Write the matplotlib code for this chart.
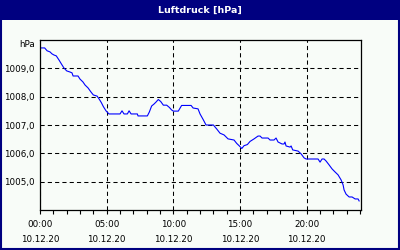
import matplotlib
matplotlib.use("Agg")
import matplotlib.pyplot as plt
from matplotlib.patches import Rectangle
from matplotlib.ticker import MultipleLocator, FixedLocator

title = "Luftdruck [hPa]"
unit = "hPa"
date_label = "10.12.20"
xtick_hours = [0, 5, 10, 15, 20]
xtick_labels = ["00:00", "05:00", "10:00", "15:00", "20:00"]
ytick_values = [1005, 1006, 1007, 1008, 1009]
ytick_labels = ["1005,0", "1006,0", "1007,0", "1008,0", "1009,0"]

hours = [0, 0.35, 0.53, 0.75, 0.9, 1.05, 1.22, 1.43, 1.65, 1.8, 2.0, 2.25, 2.4, 2.48,
         2.85, 3.0, 3.22, 3.38, 3.6, 3.83, 4.0, 4.28, 4.43, 4.6, 4.75, 4.95, 5.17, 6.0,
         6.15, 6.3, 6.55, 6.68, 6.83, 7.3, 7.35, 8.05, 8.2, 8.37, 8.55, 8.7, 8.87, 9.05,
         9.25, 9.5, 9.7, 9.87, 10.0, 10.37, 10.62, 11.33, 11.48, 11.85, 12.0, 12.25,
         12.45, 13.0, 13.25, 13.5, 13.8, 14.1, 14.55, 14.75, 14.95, 15.13, 15.3, 15.55,
         15.75, 16.05, 16.35, 16.5, 16.65, 17.1, 17.25, 17.55, 17.7, 17.85, 18.15, 18.3,
         18.37, 18.45, 18.75, 18.83, 18.95, 19.35, 19.58, 19.8, 19.95, 20.85, 21.0, 21.15,
         21.3, 21.45, 21.68, 21.9, 22.13, 22.35, 22.58, 22.73, 22.8, 22.95, 23.18, 23.4,
         23.63, 23.85, 23.93]
pressure = [1009.72, 1009.72, 1009.62, 1009.58, 1009.51, 1009.47, 1009.44, 1009.29,
            1009.12, 1009.01, 1008.91, 1008.87, 1008.84, 1008.73, 1008.73, 1008.62,
            1008.52, 1008.41, 1008.31, 1008.16, 1008.06, 1008.02, 1007.92, 1007.79,
            1007.65, 1007.5, 1007.39, 1007.39, 1007.5, 1007.39, 1007.39, 1007.5, 1007.39,
            1007.39, 1007.32, 1007.32, 1007.46, 1007.67, 1007.74, 1007.81, 1007.9,
            1007.83, 1007.7, 1007.7, 1007.62, 1007.53, 1007.49, 1007.49, 1007.69,
            1007.69, 1007.6, 1007.57, 1007.39, 1007.18, 1007.0, 1007.0, 1006.86,
            1006.71, 1006.65, 1006.51, 1006.47, 1006.35, 1006.26, 1006.17, 1006.27,
            1006.31, 1006.42, 1006.51, 1006.61, 1006.61, 1006.54, 1006.54, 1006.47,
            1006.47, 1006.54, 1006.4, 1006.33, 1006.33, 1006.4, 1006.26, 1006.22,
            1006.26, 1006.12, 1006.08, 1005.98, 1005.84, 1005.8, 1005.8, 1005.69, 1005.8,
            1005.8, 1005.73, 1005.59, 1005.45, 1005.34, 1005.24, 1005.06, 1004.88,
            1004.71, 1004.56, 1004.46, 1004.46, 1004.39, 1004.39, 1004.32]

BG = "#f8fcf8"
NAVY = "#000080"

fig = plt.figure(figsize=(4, 2.5), dpi=100, facecolor=BG)
# title bar and border
fig.patches.append(Rectangle((0, 0.92), 1, 0.08, transform=fig.transFigure,
                             facecolor=NAVY, edgecolor="none", zorder=0))
fig.patches.append(Rectangle((0.0025, 0.004), 0.995, 0.992, transform=fig.transFigure,
                             facecolor="none", edgecolor=NAVY, linewidth=1.5, zorder=1))
fig.text(0.5, 0.958, title, color="white", fontsize=6.8, fontweight="bold",
         ha="center", va="center")

ax = fig.add_axes([0.1, 0.16, 0.8025, 0.68])
ax.set_facecolor(BG)
ax.plot(hours, pressure, color="#0000ff", linewidth=0.8)
ax.set_xlim(0, 24.07)
ax.set_ylim(1004, 1010)

ax.xaxis.set_major_locator(FixedLocator(xtick_hours))
ax.set_xticklabels([f"{t}\n{date_label}" for t in xtick_labels], fontsize=6.3,
                   linespacing=1.8)
ax.xaxis.set_minor_locator(MultipleLocator(1))
ax.tick_params(axis="x", which="both", direction="out", length=3, width=0.8,
               pad=4.5, color="black")
ax.set_yticks(ytick_values)
ax.set_yticklabels(ytick_labels, fontsize=6.3)
ax.tick_params(axis="y", length=0, pad=4)

ax.grid(True, which="major", color="black", linewidth=0.75, linestyle=(0, (4, 3)))
for s in ax.spines.values():
    s.set_linewidth(0.9)
    s.set_color("black")

ax.text(-0.015, 1009.85, unit, transform=ax.get_yaxis_transform(), fontsize=6.3,
        ha="right", va="center")

fig.savefig("out.png", dpi=100, facecolor=BG)
